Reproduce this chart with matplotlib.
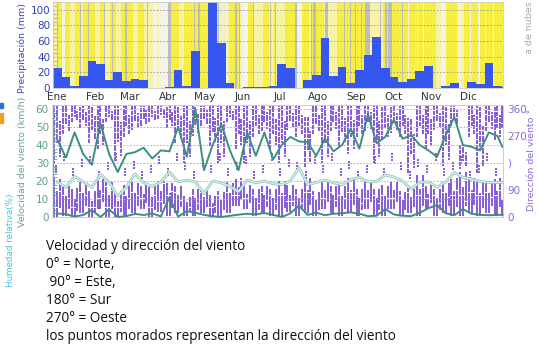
import matplotlib
matplotlib.use('Agg')
import matplotlib.pyplot as plt
import matplotlib.patheffects as pe
from matplotlib.patches import Rectangle
from matplotlib.ticker import MultipleLocator

# ---------------- data ----------------
months = ['Ene', 'Feb', 'Mar', 'Abr', 'May', 'Jun', 'Jul', 'Ago', 'Sep', 'Oct', 'Nov', 'Dic']
month_start = [0, 31, 59, 90, 120, 151, 181, 212, 243, 273, 304, 334]

# weekly precipitation (mm), 52 weeks + 1 day
precip = [25, 14, 2, 15, 35, 31, 10, 21, 9, 11, 10, 0.5, 0, 1, 23, 3, 47, 0, 113, 58, 7, 0, 1, 1.5, 1.5, 3,
          31, 25, 0, 10, 16, 64, 15, 27, 7, 23, 42, 65, 26, 14, 8, 11, 22, 28, 0, 2, 6, 0, 8, 5, 32, 3, 1]

# daily cloud cover class (Y sunny, P partly, W overcast-light, G cloudy)
cloud_months = [
    "PPPGYYYWWWYYYYPPPPYYYYGPYYYYGYY",
    "YYYPPPPYYYGPPPPYYGYYPPPPYYYG",
    "GYYYYYPPPPYYYYYPPGPPPPWWWPPWWWW",
    "WWWGGGYYYYYYPPPPYYYYYYYYGYYYGY",
    "YYYYYYYPPYYYGYGPPWPPWPPYYYYYGYY",
    "GPWWWWWYYYYGPPPPPPPYYYYYPGPPYG",
    "PPPPPPPYYYYYYYYGGWWWWYYYYYYPGYG",
    "GYYYYYYYPGGPPPPPPPYYYYYYGYYYYGY",
    "YYGYYYYGYYGGGGPPPPPPPPGPPYGGYG",
    "GGYYYYYYYYGYYYYWYYYYYYPYYYYWYYY",
    "YYYYYYYPPPPWWWWYYYYYYYYYPWWPPY",
    "YYYYWYYYYYYWYYYYPYYYYYYWYYYYYYY",
]
cloud_colors = {'Y': '#f6ee40', 'P': '#f7f3a6', 'W': '#f3f3ea', 'G': '#bdbdbd'}

# weekly wind speed (km/h)
wind_max = [43, 33, 47, 35, 29, 52, 35, 25, 35, 36, 38.5, 32.5, 37, 36.5, 50, 33.5, 60, 26, 40, 51.5, 37, 26, 47, 34, 47,
            32, 40, 44.5, 42, 41.5, 34, 43.5, 36.5, 40, 49, 38, 57, 41, 44.5, 54, 43.5, 45.5, 40, 37, 33.5, 45.5, 55.5,
            40, 39, 37, 47, 45, 39]
wind_mean = [19.5, 16.5, 22.5, 19.5, 16.5, 23.5, 19.5, 11.5, 16.5, 24, 19, 17, 19.5, 25, 19.5, 20.5, 19.5, 13, 20, 19,
             17, 14, 20.5, 19, 20, 18.5, 18, 20, 27.5, 18, 19.2, 20.5, 19, 18, 20.8, 22, 19.5, 19.8, 23.4, 22.2, 20,
             15.5, 19.3, 19.5, 16.5, 19.5, 24.7, 22, 21, 19.8, 19.2, 19.2, 19.2]
wind_min = [2, 1.5, 0.3, 1.1, 3.8, 0, 4.3, 0, 0.5, 1.7, 1.1, 2, 0.3, 11, 0.2, 3.3, 2.3, 1.2, 0.4, 0, 0.7, 1.3, 1.8, 1.5,
            2.2, 1.2, 0, 2, 6.3, 1.2, 2.4, 1, 1.8, 2.1, 2.6, 1.8, 0.5, 0.7, 4.4, 1.4, 0.7, 0.5, 2.4, 4.9, 6.6, 2.1, 1,
            4.4, 1.8, 1.2, 1, 1.2, 1.2]

# weekly wind direction streaks (degrees): upper cluster and lower cluster
dir_top_lo = [185, 280, 320, 300, 250, 230, 320, 190, 270, 295, 305, 320, 330, 300, 250, 185, 275, 305, 240, 185,
              320, 230, 185, 270, 290, 230, 185, 295, 270, 170, 280, 185, 290, 240, 215, 270, 290, 185, 260, 285,
              270, 150, 270, 230, 295, 175, 305, 165, 270, 150, 290, 260, 300]
dir_top_hi = [372, 372, 372, 372, 372, 372, 372, 372, 372, 372, 372, 372, 372, 372, 372, 372, 372, 372, 372, 372,
              372, 372, 372, 372, 372, 372, 372, 372, 372, 330, 372, 372, 372, 372, 372, 372, 372, 372, 372, 372,
              372, 330, 372, 372, 372, 372, 372, 240, 372, 372, 372, 372, 372]
dir_bot_lo = [0, 5, 0, 15, 0, 30, 0, 0, 5, 15, 30, 0, 20, 5, 15, 5, 5, 15, 0, 5, 15, 40, 30, 5, 15, 5, 5, 20, 5, 15,
              5, 30, 15, 5, 15, 5, 30, 5, 5, 30, 5, 15, 5, 30, 5, 15, 5, 5, 15, 5, 15, 5, 5]
dir_bot_hi = [130, 105, 95, 115, 85, 125, 115, 85, 105, 115, 105, 105, 120, 115, 105, 70, 95, 95, 70, 85, 115, 128,
              105, 95, 105, 95, 117, 105, 95, 128, 85, 117, 105, 105, 128, 95, 117, 95, 105, 117, 85, 95, 140, 105,
              95, 117, 128, 150, 128, 117, 117, 128, 60]
dir_mid = [160, 200, 150, 180, 190, 140, 170, 200, 150, 175, 140, 160, 190, 150, 200, 170, 140, 180, 160, 200,
           150, 170, 190, 140, 160, 200, 150, 180, 170, 140, 190, 160, 200, 150, 175, 140, 160, 190, 150, 200,
           170, 140, 180, 160, 200, 150, 170, 190, 140, 160, 200, 150, 180]

# ---------------- derived positions ----------------
n = len(precip)
bar_left = [7 * i for i in range(n)]
bar_width = [min(7, 365 - 7 * i) for i in range(n)]
mid_day = [bar_left[i] + bar_width[i] / 2 for i in range(n)]
cloud_str = "".join(cloud_months)

fig = plt.figure(figsize=(5.39, 3.54), dpi=100)
W, H = 539.0, 354.0
ax1 = fig.add_axes([53 / W, 1 - 88 / H, 450 / W, 86 / H])
ax2 = fig.add_axes([53 / W, 1 - 217 / H, 450 / W, 112.5 / H])
ax3 = ax2.twinx()

# ---------------- top panel ----------------
ytop = 110
ax1.bar(range(len(cloud_str)), [ytop] * len(cloud_str), width=1, align='edge',
        color=[cloud_colors[c] for c in cloud_str], linewidth=0, zorder=0)
for v in [20, 40, 60, 80, 100]:
    ax1.axhline(v, color='#9a9a9a', lw=0.6, ls=(0, (2, 2)), zorder=1)
ax1.bar(bar_left, precip, width=bar_width, align='edge', color='#3557ef', linewidth=0, zorder=2)
ax1.set_xlim(0, 365)
ax1.set_ylim(0, ytop)
ax1.set_yticks([0, 20, 40, 60, 80, 100])
ax1.yaxis.set_minor_locator(MultipleLocator(5))
ax1.tick_params(axis='y', which='major', labelsize=7.5, labelcolor='#2f3fb8', length=0, pad=2)
ax1.tick_params(axis='y', which='minor', direction='in', length=3, color='#aaaaaa')
ax1.set_xticks([d + 3 for d in month_start])
ax1.set_xticklabels(months)
ax1.tick_params(axis='x', labelsize=7.5, labelcolor='#333333', length=0, pad=3)
for s in ax1.spines.values():
    s.set_color('#cccccc')
    s.set_linewidth(0.6)

# ---------------- bottom panel ----------------
xs, ys = [], []
col_offsets = [1.2, 3.5, 5.8]
top_frac = [(0.0, 1.0), (0.35, 1.0), (0.1, 0.7)]
bot_frac = [(0.0, 1.0), (0.0, 0.65), (0.25, 1.0)]
for i in range(n):
    for k, off in enumerate(col_offsets):
        d = bar_left[i] + off * bar_width[i] / 7.0
        lo, hi = dir_top_lo[i], dir_top_hi[i]
        span = hi - lo
        a, b = lo + top_frac[k][0] * span, lo + top_frac[k][1] * span
        v = a
        while v <= b:
            xs.append(d); ys.append(v); v += 8
        lo, hi = dir_bot_lo[i], dir_bot_hi[i]
        span = hi - lo
        a, b = lo + bot_frac[k][0] * span, lo + bot_frac[k][1] * span
        v = a
        while v <= b:
            xs.append(d); ys.append(v); v += 7
    c = dir_mid[i]
    v = c - 10
    while v <= c + 10:
        xs.append(bar_left[i] + 2.3); ys.append(v); v += 10

ax3.scatter(xs, ys, s=1.6, marker='s', color='#8a5fd1', linewidths=0, zorder=1)
ax3.set_ylim(0, 375)
ax3.set_yticks([0, 90, 180, 270, 360])
ax3.set_yticklabels(['0', '90', ')', '270', '360'])
ax3.tick_params(axis='y', labelsize=7.5, labelcolor='#8e6ad0', length=0, pad=3)

ax2.set_zorder(ax3.get_zorder() + 1)
ax2.patch.set_visible(False)
for v in [10, 20, 30, 40, 50, 60]:
    ax2.axhline(v, color='#a8a8a8', lw=0.6, ls=(0, (2, 2)), zorder=0)
ax2.plot(mid_day, wind_max, color='#3d8f80', lw=1.4, zorder=3)
ax2.plot(mid_day, wind_mean, color='#d6f0e8', lw=1.0, zorder=3,
         path_effects=[pe.Stroke(linewidth=2.0, foreground='#86c2b3'), pe.Normal()])
ax2.plot(mid_day, wind_min, color='#3d8f80', lw=1.4, zorder=3, clip_on=False)
ax2.set_xlim(0, 365)
ax2.set_ylim(0, 62.5)
ax2.set_yticks([0, 10, 20, 30, 40, 50, 60])
ax2.yaxis.set_minor_locator(MultipleLocator(2))
ax2.tick_params(axis='y', which='major', labelsize=7.5, labelcolor='#5f9e94', length=0, pad=3)
ax2.tick_params(axis='y', which='minor', direction='in', length=3, color='#6aa39a')
ax2.set_xticks([])
for s in list(ax2.spines.values()) + list(ax3.spines.values()):
    s.set_color('#cccccc')
    s.set_linewidth(0.6)
ax2.spines['left'].set_color('#6aa39a')
ax2.spines['left'].set_linewidth(1.0)

# ---------------- axis titles / side texts ----------------
fig.text(22 / W, 1 - 48 / H, 'Precipitación (mm)', rotation=90, ha='center', va='center',
         fontsize=6.8, color='#3347c8')
fig.text(23 / W, 1 - 162 / H, 'Velocidad del viento (km/h)', rotation=90, ha='center', va='center',
         fontsize=6.8, color='#6aa39a')
fig.text(11 / W, 1 - 240 / H, 'Humedad relativa(%)', rotation=90, ha='center', va='center',
         fontsize=6.3, color='#3cc8e0')
fig.text(530 / W, 1 - 28 / H, 'a de nubes', rotation=90, ha='center', va='center',
         fontsize=6.8, color='#aaaaaa')
fig.text(532 / W, 1 - 160 / H, 'Dirección del viento °', rotation=90, ha='center', va='center',
         fontsize=6.8, color='#8e6ad0')
fig.patches.append(Rectangle((0, 1 - 108 / H), 3 / W, 5 / H, transform=fig.transFigure,
                             color='#2a6fe0', figure=fig))
fig.patches.append(Rectangle((0, 1 - 123 / H), 3 / W, 10 / H, transform=fig.transFigure,
                             color='#f0a020', figure=fig))

notes = ['Velocidad y dirección del viento', '0° = Norte,', ' 90° = Este,', '180° = Sur', '270° = Oeste',
         'los puntos morados representan la dirección del viento']
note_y = [246, 265, 282, 300, 318, 336]
for t, y in zip(notes, note_y):
    fig.text(46 / W, 1 - y / H, t, ha='left', va='center', fontsize=9.8,
             family=['Open Sans', 'DejaVu Sans'], color='#111111')

fig.savefig('out.png', dpi=100)
